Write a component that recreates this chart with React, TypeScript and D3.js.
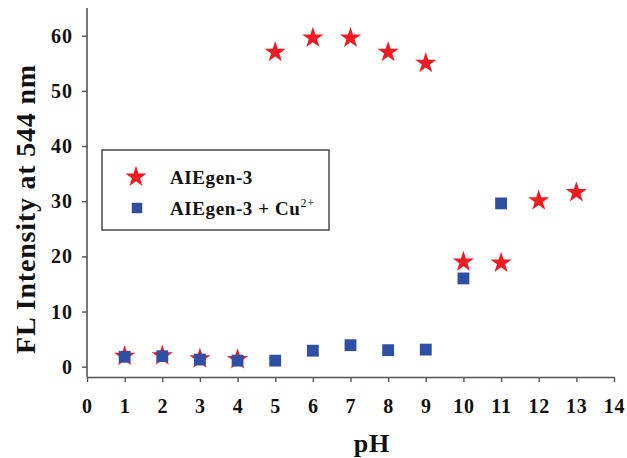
import { useEffect, useRef } from "react";
import * as d3 from "d3";

const W = 627;
const H = 458;

const pH = [1, 2, 3, 4, 5, 6, 7, 8, 9, 10, 11, 12, 13];
const aiegen = [1.9, 2.0, 1.45, 1.3, 57.0, 59.6, 59.6, 57.0, 55.0, 19.0, 18.8, 30.1, 31.6];
const pHCu = [1, 2, 3, 4, 5, 6, 7, 8, 9, 10, 11];
const aiegenCu = [1.8, 1.9, 1.3, 1.1, 1.1, 2.9, 3.9, 3.0, 3.1, 16.0, 29.6];
const xTicks = d3.range(0, 15);
const yTicks = [0, 10, 20, 30, 40, 50, 60];

const RED = "#ed1c24";
const BLUE = "#2f4fa2";
const AXIS = "#555";
const FONT = "'Liberation Serif', serif";

const App = () => {
  const ref = useRef<SVGSVGElement>(null);

  useEffect(() => {
    document.body.style.margin = "0";
    const svg = d3.select(ref.current);
    svg.selectAll("*").remove();

    const x = d3.scaleLinear().domain([0, 14]).range([87, 614]);
    const y = d3.scaleLinear().domain([0, 60]).range([366.7, 35.7]);
    const yBottom = 377;

    // axes
    svg.append("line")
      .attr("x1", 87).attr("x2", 87).attr("y1", 8).attr("y2", yBottom)
      .attr("stroke", AXIS).attr("stroke-width", 1.6);
    svg.append("g")
      .attr("transform", "translate(87,0)")
      .call(d3.axisLeft(y).tickValues(yTicks).tickSize(5).tickSizeOuter(0).tickFormat(() => ""))
      .call(g => g.select(".domain").remove())
      .call(g => g.selectAll(".tick line").attr("stroke", AXIS).attr("stroke-width", 1.4));
    svg.append("g")
      .attr("transform", `translate(0,${yBottom})`)
      .call(d3.axisBottom(x).tickValues(xTicks).tickSize(5).tickSizeOuter(0).tickPadding(17))
      .call(g => g.select(".domain").attr("stroke", AXIS).attr("stroke-width", 1.6))
      .call(g => g.selectAll(".tick line").attr("stroke", AXIS).attr("stroke-width", 1.4))
      .call(g => g.selectAll(".tick text")
        .attr("fill", "#111").attr("font-size", 20).attr("font-weight", "bold")
        .attr("letter-spacing", 0.8).attr("font-family", FONT));

    svg.append("g")
      .selectAll("text")
      .data(yTicks)
      .join("text")
      .attr("x", 73)
      .attr("y", d => y(d))
      .attr("dy", "0.35em")
      .attr("text-anchor", "end")
      .attr("font-size", 20).attr("font-weight", "bold").attr("font-family", FONT)
      .attr("letter-spacing", 1)
      .attr("fill", "#111")
      .text(d => d);

    // axis titles
    svg.append("text")
      .attr("transform", "translate(35,209) rotate(-90)")
      .attr("text-anchor", "middle")
      .attr("font-size", 28).attr("font-weight", "bold").attr("font-family", FONT)
      .attr("letter-spacing", 0.8)
      .attr("fill", "#111")
      .text("FL Intensity at 544 nm");
    svg.append("text")
      .attr("x", 372).attr("y", 452)
      .attr("text-anchor", "middle")
      .attr("font-size", 26).attr("font-weight", "bold").attr("font-family", FONT)
      .attr("letter-spacing", 1)
      .attr("fill", "#111")
      .text("pH");

    const star = d3.symbol(d3.symbolStar, 140)();
    const square = d3.symbol(d3.symbolSquare, 140)();

    svg.append("g")
      .selectAll("path")
      .data(pH)
      .join("path")
      .attr("d", star)
      .attr("transform", (d, i) => `translate(${x(d)},${y(aiegen[i])})`)
      .attr("fill", RED);

    svg.append("g")
      .selectAll("path")
      .data(pHCu)
      .join("path")
      .attr("d", square)
      .attr("transform", (d, i) => `translate(${x(d)},${y(aiegenCu[i])})`)
      .attr("fill", BLUE);

    // legend
    const lg = svg.append("g");
    lg.append("rect")
      .attr("x", 102).attr("y", 150).attr("width", 227).attr("height", 80)
      .attr("fill", "#fff").attr("stroke", AXIS).attr("stroke-width", 1.6);
    lg.append("path").attr("d", star).attr("transform", "translate(136,177)").attr("fill", RED);
    lg.append("path").attr("d", d3.symbol(d3.symbolSquare, 110)()).attr("transform", "translate(137,208)").attr("fill", BLUE);
    lg.append("text")
      .attr("x", 170).attr("y", 184)
      .attr("font-size", 19).attr("font-weight", "bold").attr("font-family", FONT)
      .attr("letter-spacing", 0.6).attr("fill", "#111")
      .text("AIEgen-3");
    const t2 = lg.append("text")
      .attr("x", 170).attr("y", 215)
      .attr("font-size", 19).attr("font-weight", "bold").attr("font-family", FONT)
      .attr("letter-spacing", 0.6).attr("fill", "#111");
    t2.append("tspan").text("AIEgen-3 + Cu");
    t2.append("tspan").attr("dy", -8).attr("font-size", 12).attr("font-weight", "normal").text("2+");
  }, []);

  return <svg ref={ref} width={W} height={H} style={{ display: "block", background: "#fff" }} />;
};

export default App;
